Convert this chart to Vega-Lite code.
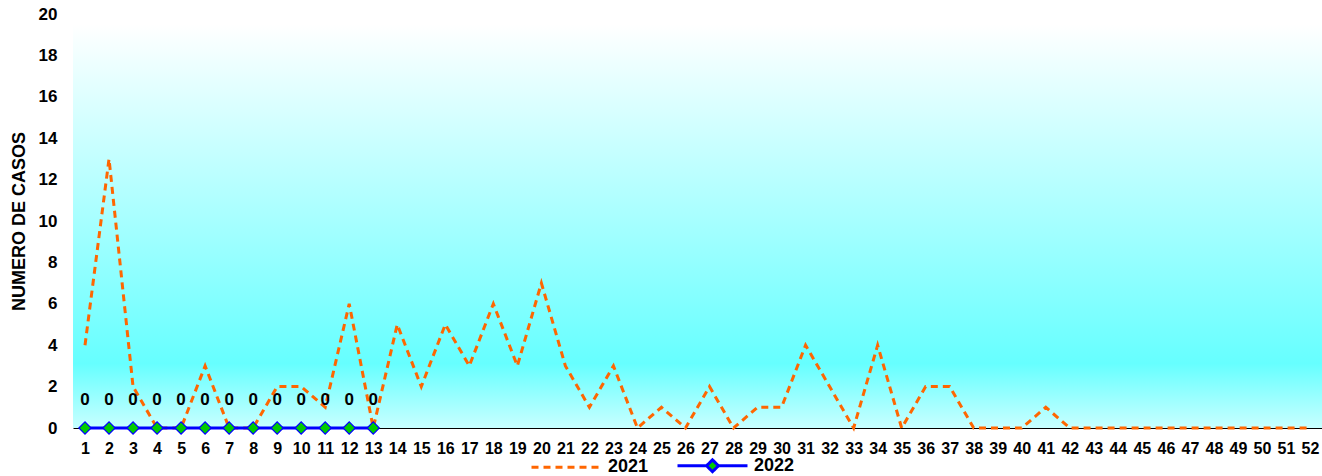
{
  "$schema": "https://vega.github.io/schema/vega-lite/v6.json",
  "width": 1249,
  "height": 414,
  "autosize": {"type": "none"},
  "padding": {"left": 73, "top": 14, "right": 0, "bottom": 48},
  "background": "#ffffff",
  "config": {
    "font": "Liberation Sans",
    "view": {"stroke": null}
  },
  "datasets": {
    "cases": [
      {"week": 1, "year": "2021", "value": 4},
      {"week": 2, "year": "2021", "value": 13},
      {"week": 3, "year": "2021", "value": 2},
      {"week": 4, "year": "2021", "value": 0},
      {"week": 5, "year": "2021", "value": 0},
      {"week": 6, "year": "2021", "value": 3},
      {"week": 7, "year": "2021", "value": 0},
      {"week": 8, "year": "2021", "value": 0},
      {"week": 9, "year": "2021", "value": 2},
      {"week": 10, "year": "2021", "value": 2},
      {"week": 11, "year": "2021", "value": 1},
      {"week": 12, "year": "2021", "value": 6},
      {"week": 13, "year": "2021", "value": 0},
      {"week": 14, "year": "2021", "value": 5},
      {"week": 15, "year": "2021", "value": 2},
      {"week": 16, "year": "2021", "value": 5},
      {"week": 17, "year": "2021", "value": 3},
      {"week": 18, "year": "2021", "value": 6},
      {"week": 19, "year": "2021", "value": 3},
      {"week": 20, "year": "2021", "value": 7},
      {"week": 21, "year": "2021", "value": 3},
      {"week": 22, "year": "2021", "value": 1},
      {"week": 23, "year": "2021", "value": 3},
      {"week": 24, "year": "2021", "value": 0},
      {"week": 25, "year": "2021", "value": 1},
      {"week": 26, "year": "2021", "value": 0},
      {"week": 27, "year": "2021", "value": 2},
      {"week": 28, "year": "2021", "value": 0},
      {"week": 29, "year": "2021", "value": 1},
      {"week": 30, "year": "2021", "value": 1},
      {"week": 31, "year": "2021", "value": 4},
      {"week": 32, "year": "2021", "value": 2},
      {"week": 33, "year": "2021", "value": 0},
      {"week": 34, "year": "2021", "value": 4},
      {"week": 35, "year": "2021", "value": 0},
      {"week": 36, "year": "2021", "value": 2},
      {"week": 37, "year": "2021", "value": 2},
      {"week": 38, "year": "2021", "value": 0},
      {"week": 39, "year": "2021", "value": 0},
      {"week": 40, "year": "2021", "value": 0},
      {"week": 41, "year": "2021", "value": 1},
      {"week": 42, "year": "2021", "value": 0},
      {"week": 43, "year": "2021", "value": 0},
      {"week": 44, "year": "2021", "value": 0},
      {"week": 45, "year": "2021", "value": 0},
      {"week": 46, "year": "2021", "value": 0},
      {"week": 47, "year": "2021", "value": 0},
      {"week": 48, "year": "2021", "value": 0},
      {"week": 49, "year": "2021", "value": 0},
      {"week": 50, "year": "2021", "value": 0},
      {"week": 51, "year": "2021", "value": 0},
      {"week": 52, "year": "2021", "value": 0},
      {"week": 1, "year": "2022", "value": 0},
      {"week": 2, "year": "2022", "value": 0},
      {"week": 3, "year": "2022", "value": 0},
      {"week": 4, "year": "2022", "value": 0},
      {"week": 5, "year": "2022", "value": 0},
      {"week": 6, "year": "2022", "value": 0},
      {"week": 7, "year": "2022", "value": 0},
      {"week": 8, "year": "2022", "value": 0},
      {"week": 9, "year": "2022", "value": 0},
      {"week": 10, "year": "2022", "value": 0},
      {"week": 11, "year": "2022", "value": 0},
      {"week": 12, "year": "2022", "value": 0},
      {"week": 13, "year": "2022", "value": 0}
    ]
  },
  "layer": [
    {
      "data": {"values": [{"top": 19.5, "bottom": 0, "left": 0.5, "right": 52.5}]},
      "mark": {
        "type": "rect",
        "fill": {
          "gradient": "linear",
          "x1": 0, "y1": 0, "x2": 0, "y2": 1,
          "stops": [
            {"offset": 0, "color": "#ffffff"},
            {"offset": 0.84, "color": "#66ffff"},
            {"offset": 1, "color": "#c8ffff"}
          ]
        }
      },
      "encoding": {
        "x": {
          "field": "left", "type": "quantitative",
          "scale": {"domain": [0.5, 52.5], "nice": false, "zero": false},
          "axis": {
            "title": null,
            "values": [1,2,3,4,5,6,7,8,9,10,11,12,13,14,15,16,17,18,19,20,21,22,23,24,25,26,27,28,29,30,31,32,33,34,35,36,37,38,39,40,41,42,43,44,45,46,47,48,49,50,51,52],
            "tickCount": 60,
            "format": "d",
            "grid": false,
            "ticks": false,
            "domain": true,
            "domainColor": "#000000",
            "domainWidth": 1,
            "labelFontSize": 16,
            "labelFontWeight": "bold",
            "labelColor": "#000000",
            "labelPadding": 12,
            "labelOverlap": false,
            "labelFlush": false,
            "labelBound": false
          }
        },
        "x2": {"field": "right"},
        "y": {
          "field": "top", "type": "quantitative",
          "scale": {"domain": [0, 20], "nice": false},
          "axis": {
            "title": "NUMERO DE CASOS",
            "titleFontSize": 18,
            "titleFontWeight": "bold",
            "titleColor": "#000000",
            "titlePadding": 10,
            "values": [0, 2, 4, 6, 8, 10, 12, 14, 16, 18, 20],
            "tickCount": 20,
            "grid": false,
            "ticks": false,
            "domain": false,
            "labelFontSize": 17,
            "labelFontWeight": "bold",
            "labelColor": "#000000",
            "labelPadding": 16,
            "labelOverlap": false,
            "labelFlush": false
          }
        },
        "y2": {"field": "bottom"}
      }
    },
    {
      "data": {"name": "cases"},
      "mark": {"type": "line", "strokeWidth": 3},
      "encoding": {
        "x": {"field": "week", "type": "quantitative"},
        "y": {"field": "value", "type": "quantitative"},
        "color": {
          "field": "year", "type": "nominal",
          "scale": {"domain": ["2021", "2022"], "range": ["#ff6600", "#0000ff"]},
          "legend": {
            "orient": "none",
            "legendX": 457,
            "legendY": 415,
            "direction": "horizontal",
            "title": null,
            "padding": 0,
            "symbolSize": 4900,
            "symbolStrokeWidth": 3,
            "labelFontSize": 18,
            "labelFontWeight": "bold",
            "labelColor": "#000000",
            "labelOffset": 5,
            "columnPadding": 22,
            "encode": {
              "symbols": {
                "update": {
                  "shape": {"signal": "datum.value == '2022' ? 'M-1,0H-0.17L0,-0.17L0.17,0L0,0.17L-0.17,0ZM0.17,0H1' : 'M-1,0H1'"},
                  "fill": {"signal": "datum.value == '2022' ? '#00cc00' : 'transparent'"}
                }
              }
            }
          }
        },
        "strokeDash": {
          "field": "year", "type": "nominal",
          "scale": {"domain": ["2021", "2022"], "range": [[7, 5], [1, 0]]},
          "legend": {
            "orient": "none",
            "legendX": 457,
            "legendY": 415,
            "direction": "horizontal",
            "title": null,
            "padding": 0,
            "symbolSize": 4900,
            "symbolStrokeWidth": 3,
            "labelFontSize": 18,
            "labelFontWeight": "bold",
            "labelColor": "#000000",
            "labelOffset": 5,
            "columnPadding": 22,
            "encode": {
              "symbols": {
                "update": {
                  "shape": {"signal": "datum.value == '2022' ? 'M-1,0H-0.17L0,-0.17L0.17,0L0,0.17L-0.17,0ZM0.17,0H1' : 'M-1,0H1'"},
                  "fill": {"signal": "datum.value == '2022' ? '#00cc00' : 'transparent'"}
                }
              }
            }
          }
        },
        "order": {"field": "week", "type": "quantitative"}
      }
    },
    {
      "data": {"name": "cases"},
      "transform": [{"filter": "datum.year == '2022'"}],
      "mark": {"type": "point", "shape": "diamond", "size": 150, "filled": true, "fill": "#00cc00", "stroke": "#0000ff", "strokeWidth": 1.2, "opacity": 1},
      "encoding": {
        "x": {"field": "week", "type": "quantitative"},
        "y": {"field": "value", "type": "quantitative"}
      }
    },
    {
      "data": {"name": "cases"},
      "transform": [{"filter": "datum.year == '2022'"}],
      "mark": {"type": "text", "dy": -28, "fontSize": 17, "fontWeight": "bold", "color": "#000000", "baseline": "middle"},
      "encoding": {
        "x": {"field": "week", "type": "quantitative"},
        "y": {"field": "value", "type": "quantitative"},
        "text": {"field": "value", "type": "quantitative"}
      }
    }
  ]
}
